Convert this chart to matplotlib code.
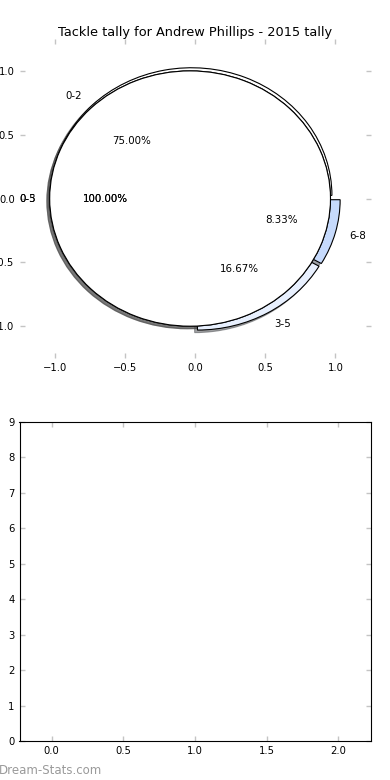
import matplotlib
matplotlib.use('Agg')
import matplotlib.pyplot as plt

# ── data ──────────────────────────────────────────────────────────────────
TITLE = 'Tackle tally for Andrew Phillips - 2015 tally'
tally_labels = ['0-2', '3-5', '6-8']
tally_counts = [9, 2, 1]
tally_colors = ['#FFFFFF', '#E8F0FE', '#C6DAFC']

# single-slice pies drawn over the first one
overlay_labels = ['0-5', '0-3']
overlay_counts = [1]

pie_ticks = [-1.0, -0.5, 0.0, 0.5, 1.0]
bar_xticks = [0.0, 0.5, 1.0, 1.5, 2.0]
bar_yticks = list(range(10))

# ── style ─────────────────────────────────────────────────────────────────
EXPLODE = 0.035
TICK_C = '#C4C4C4'
FS = 7.2
FS_PIE = 7.4
FS_TITL = 9.3
DPI = 100

plt.rcParams.update({'font.family': 'DejaVu Sans', 'font.size': FS})

fig, (ax_pie, ax_bar) = plt.subplots(2, 1, figsize=(3.9, 7.8), dpi=DPI)
fig.subplots_adjust(left=0.05, right=0.95, top=0.95, bottom=0.05, hspace=0.2)

wp = {'edgecolor': 'black', 'linewidth': 0.8}
# Shadow offset is data units scaled by dpi/72 -> aim for 0.02 data units
sh = -0.02 * 72 / DPI
shadow = {'ox': sh, 'oy': sh}

# ── top: pie ──────────────────────────────────────────────────────────────
ax_pie.pie(tally_counts, labels=tally_labels, colors=tally_colors,
           explode=[EXPLODE] * len(tally_counts), autopct='%.2f%%',
           startangle=0, shadow=shadow, wedgeprops=wp,
           textprops={'fontsize': FS_PIE})
for lab in overlay_labels:
    ax_pie.pie(overlay_counts, labels=[lab], colors=['white'],
               explode=[EXPLODE], autopct='%.2f%%', startangle=0,
               shadow=shadow, wedgeprops=wp,
               textprops={'fontsize': FS_PIE})

ax_pie.set_aspect('auto')
ax_pie.set_xlim(-1.25, 1.25)
ax_pie.set_ylim(-1.25, 1.25)
ax_pie.set_xticks(pie_ticks)
ax_pie.set_yticks(pie_ticks)
ax_pie.set_frame_on(False)
ax_pie.set_title(TITLE, fontsize=FS_TITL, pad=2)

# ── bottom: empty axes ────────────────────────────────────────────────────
ax_bar.set_xlim(-0.225, 2.225)
ax_bar.set_ylim(0, 9)
ax_bar.set_xticks(bar_xticks)
ax_bar.set_yticks(bar_yticks)
for sp in ax_bar.spines.values():
    sp.set_linewidth(0.8)

for ax in (ax_pie, ax_bar):
    ax.tick_params(direction='in', color=TICK_C, length=3.5, width=1.0,
                   top=True, right=True, labelsize=FS)

fig.text(-0.002, 0.0128, 'Dream-Stats.com', ha='left', va='center',
         fontsize=8.5, color='#9A9A9A')

plt.savefig('out.png', dpi=DPI)
plt.close()
